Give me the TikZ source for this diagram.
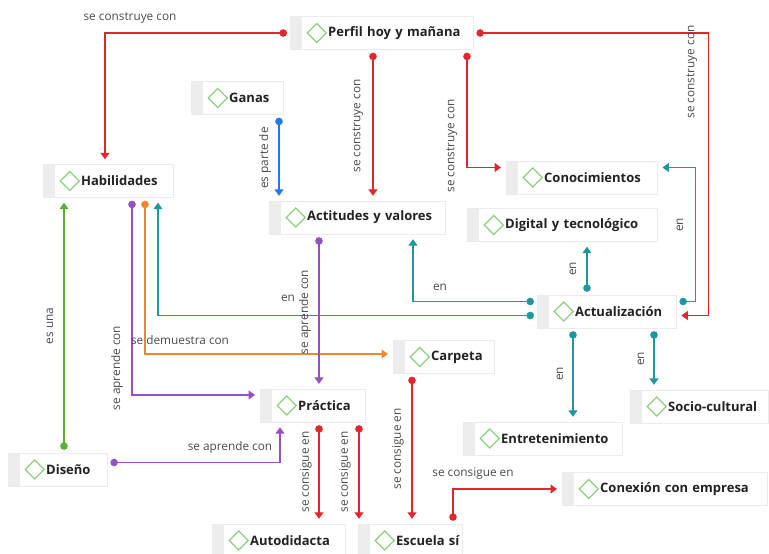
\documentclass[tikz,border=0pt]{standalone}
\usepackage{fontspec}
\setmainfont{Open Sans}
\usetikzlibrary{arrows.meta}
\definecolor{cred}{HTML}{E3262E}
\definecolor{cteal}{HTML}{1F979E}
\definecolor{cblue}{HTML}{2079F0}
\definecolor{cpurple}{HTML}{9650C0}
\definecolor{corange}{HTML}{F7862A}
\definecolor{cgreen}{HTML}{5BB030}
\definecolor{dgreen}{HTML}{8ED07E}
\definecolor{lblgray}{HTML}{4A4A4A}
\definecolor{txtgray}{HTML}{222222}
\tikzset{
  cnode/.style={anchor=west, draw=black!8, fill=white, minimum height=33pt,
    inner xsep=0pt, text width=#1, align=left, text=txtgray,
    font=\fontsize{13pt}{15pt}\selectfont\bfseries,
    execute at begin node=\hspace*{38pt},
    path picture={
      \fill[black!7] (path picture bounding box.south west) rectangle ([xshift=12pt]path picture bounding box.north west);
      \draw[dgreen, line width=1.3pt] ([xshift=17pt]path picture bounding box.west) -- ++(9.5pt,9.5pt) -- ++(9.5pt,-9.5pt) -- ++(-9.5pt,-9.5pt) -- cycle;}},
  lbl/.style={font=\fontsize{11.8pt}{13pt}\selectfont, text=lblgray, inner sep=1pt},
  conn/.style={line width=1.2pt, {Circle[length=7.5pt]}-{Triangle[width=9pt,length=6.5pt]},
    shorten <=3pt, shorten >=5pt},
  rlink/.style={conn, draw=cred},
  tlink/.style={conn, draw=cteal},
  plink/.style={conn, draw=cpurple}
}
\begin{document}
\begin{tikzpicture}[x=1pt,y=-1pt]
    \useasboundingbox (0,0) rectangle (769,554);
    % conceptos
    \node at (290,33) [cnode=183pt] (perfil) {Perfil hoy y mañana};
    \node at (191,98) [cnode=92pt] (ganas) {Ganas};
    \node at (43,181) [cnode=130pt] (habil) {Habilidades};
    \node at (506,177.5) [cnode=151pt] (conoc) {Conocimientos};
    \node at (269,217.5) [cnode=176pt] (actit) {Actitudes y valores};
    \node at (467,225) [cnode=190pt] (digital) {Digital y tecnológico};
    \node at (537,311.5) [cnode=139pt] (actual) {Actualización};
    \node at (393,357) [cnode=101pt] (carpeta) {Carpeta};
    \node at (260,405.5) [cnode=105pt] (practica) {Práctica};
    \node at (630,406.5) [cnode=138pt] (socio) {Socio-cultural};
    \node at (463,438.5) [cnode=159pt] (entret) {Entretenimiento};
    \node at (8,469.5) [cnode=99pt] (diseno) {Diseño};
    \node at (562,489) [cnode=205pt] (conex) {Conexión con empresa};
    \node at (212,540.5) [cnode=133pt] (autod) {Autodidacta};
    \node at (358,540.5) [cnode=104pt] (escuela) {Escuela sí};

    % enlaces
    \draw[rlink] (perfil.west) -| ([xshift=62pt]habil.north west);
    \draw[rlink] ([xshift=83pt]perfil.south west) -- ([xshift=104pt]actit.north west);
    \draw[rlink] ([xshift=177pt]perfil.south west) |- ([yshift=10pt]conoc.west);
    \draw[rlink] (perfil.east) -- ++(235,0) |- ([yshift=-4pt]actual.east);
    \draw[conn, draw=cblue] ([xshift=88pt]ganas.south west) -- ([xshift=10pt]actit.north west);
    \draw[conn, draw=cgreen] ([xshift=56pt]diseno.north west) -- ([xshift=21pt]habil.south west);
    \draw[plink] ([xshift=89pt]habil.south west) |- ([yshift=10.5pt]practica.west);
    \draw[conn, draw=corange] ([xshift=102pt]habil.south west) |- ([yshift=3pt]carpeta.west);
    \draw[tlink] ([yshift=-4pt]actual.west) -| ([xshift=115pt]habil.south west);
    \draw[tlink] ([yshift=10pt]actual.west) -| ([xshift=144pt]actit.south west);
    \draw[tlink] ([xshift=50pt]actual.north west) -- ([xshift=120pt]digital.south west);
    \draw[tlink] ([yshift=10pt]actual.east) -- ++(19,0) |- ([yshift=10pt]conoc.east);
    \draw[tlink] ([xshift=36pt]actual.south west) -- ([xshift=110pt]entret.north west);
    \draw[tlink] ([xshift=117pt]actual.south west) -- ([xshift=24pt]socio.north west);
    \draw[plink] ([xshift=50pt]actit.south west) -- ([xshift=59pt]practica.north west);
    \draw[plink] ([yshift=7pt]diseno.east) -| ([xshift=20pt]practica.south west);
    \draw[rlink] ([xshift=59pt]practica.south west) -- ([xshift=107pt]autod.north west);
    \draw[rlink] ([xshift=99pt]practica.south west) -- ([xshift=1pt]escuela.north west);
    \draw[rlink] ([xshift=19pt]carpeta.south west) -- ([xshift=54pt]escuela.north west);
    \draw[rlink] ([xshift=95pt]escuela.north west) |- (conex.west);

    % etiquetas
    \node at (130,18) [lbl] (l1) {se construye con};
    \node at (265,158) [lbl,rotate=90] (l2) {es parte de};
    \node at (358,126) [lbl,rotate=90] (l3) {se construye con};
    \node at (452,146) [lbl,rotate=90] (l4) {se construye con};
    \node at (692,72) [lbl,rotate=90] (l5) {se construye con};
    \node at (680,225) [lbl,rotate=90] (l6) {en};
    \node at (573,269) [lbl,rotate=90] (l7) {en};
    \node at (440,287) [lbl] (l8) {en};
    \node at (288,298) [lbl] (l9) {en};
    \node at (560,374) [lbl,rotate=90] (l10) {en};
    \node at (641,359) [lbl,rotate=90] (l11) {en};
    \node at (180,340) [lbl] (l12) {se demuestra con};
    \node at (117,368) [lbl,rotate=90] (l13) {se aprende con};
    \node at (50,326) [lbl,rotate=90] (l14) {es una};
    \node at (305,312) [lbl,rotate=90] (l15) {se aprende con};
    \node at (230,447) [lbl] (l16) {se aprende con};
    \node at (306,472) [lbl,rotate=90] (l17) {se consigue en};
    \node at (345,472) [lbl,rotate=90] (l18) {se consigue en};
    \node at (398,449) [lbl,rotate=90] (l19) {se consigue en};
    \node at (473,474) [lbl] (l20) {se consigue en};
\end{tikzpicture}
\end{document}
